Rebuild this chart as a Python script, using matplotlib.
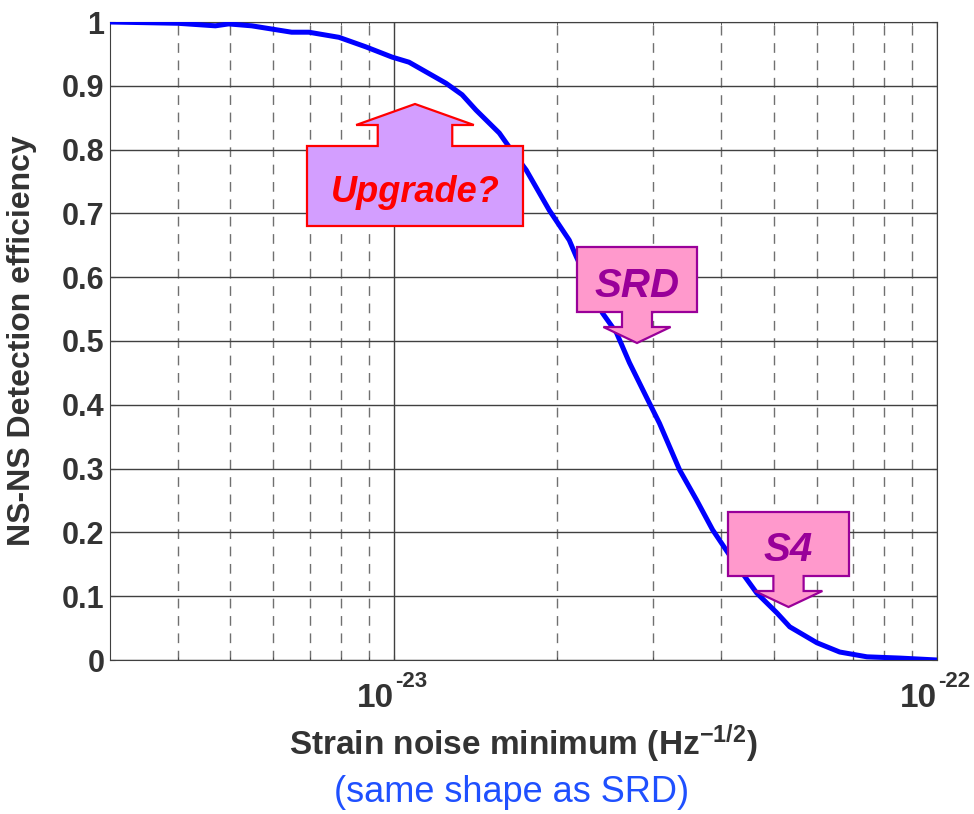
import matplotlib
matplotlib.use('Agg')
import matplotlib.pyplot as plt
from matplotlib.patches import Polygon
from matplotlib.ticker import FixedLocator, NullFormatter
from matplotlib.transforms import blended_transform_factory

# curve: strain noise minimum vs NS-NS detection efficiency
strain = [3.0e-24, 4.0e-24, 4.69e-24, 4.96e-24, 5.47e-24, 6.48e-24, 6.97e-24,
          7.92e-24, 8.88e-24, 9.92e-24, 1.066e-23, 1.247e-23, 1.335e-23,
          1.416e-23, 1.563e-23, 1.63e-23, 1.752e-23, 1.932e-23, 2.103e-23,
          2.167e-23, 2.42e-23, 2.569e-23, 2.714e-23, 2.917e-23, 3.083e-23,
          3.357e-23, 3.607e-23, 3.862e-23, 4.205e-23, 4.656e-23, 5.07e-23,
          5.356e-23, 6.01e-23, 6.62e-23, 7.43e-23, 8.55e-23, 1.0e-22]
efficiency = [1.0, 0.998, 0.994, 0.997, 0.994, 0.984, 0.984,
              0.976, 0.961, 0.945, 0.937, 0.904, 0.886,
              0.862, 0.826, 0.804, 0.768, 0.705, 0.658,
              0.632, 0.544, 0.513, 0.466, 0.412, 0.371,
              0.298, 0.251, 0.204, 0.157, 0.105, 0.074,
              0.052, 0.027, 0.0125, 0.005, 0.003, 0.0]

y_ticks = [0, 0.1, 0.2, 0.3, 0.4, 0.5, 0.6, 0.7, 0.8, 0.9, 1]
y_tick_labels = ['0', '0.1', '0.2', '0.3', '0.4', '0.5', '0.6', '0.7', '0.8', '0.9', '1']
x_major = [1e-23, 1e-22]
x_major_exp = ['-23', '-22']
x_minor = [4e-24, 5e-24, 6e-24, 7e-24, 8e-24, 9e-24,
           2e-23, 3e-23, 4e-23, 5e-23, 6e-23, 7e-23, 8e-23, 9e-23]

# callouts: label, text colour, fill, edge, box (l, t, r, b px), arrow, font size
callouts = [
    ('Upgrade?', '#ff0000', '#d39eff', '#ff0000', (307, 146, 523, 226), 'up', 26),
    ('SRD', '#990099', '#ff99cc', '#990099', (577, 247, 697, 312), 'down', 29),
    ('S4', '#990099', '#ff99cc', '#990099', (728, 512, 849, 576), 'down', 29),
]

W, H = 974, 814
FONT = 'Liberation Sans'
plt.rcParams['font.family'] = [FONT, 'DejaVu Sans']
plt.rcParams['mathtext.fontset'] = 'custom'
plt.rcParams['mathtext.bf'] = FONT + ':bold'
plt.rcParams['mathtext.rm'] = FONT + ':bold'
plt.rcParams['mathtext.it'] = FONT + ':bold:italic'

fig = plt.figure(figsize=(W / 100, H / 100), dpi=100)
ax = fig.add_axes([110 / W, 1 - 660 / H, (937 - 110) / W, (660 - 22) / H])

ax.semilogx(strain, efficiency, color='#0000ff', lw=3.6, zorder=3,
            solid_joinstyle='round')
ax.set_xlim(3e-24, 1e-22)
ax.set_ylim(0, 1)

grey = '#333333'
ax.set_yticks(y_ticks)
ax.set_yticklabels(y_tick_labels, fontsize=22, fontweight='bold', color=grey)
ax.xaxis.set_major_locator(FixedLocator(x_major))
ax.xaxis.set_minor_locator(FixedLocator(x_minor))
ax.xaxis.set_major_formatter(NullFormatter())
ax.xaxis.set_minor_formatter(NullFormatter())
ax.tick_params(axis='both', which='both', direction='in', colors='#444444',
               top=True, right=True)
ax.tick_params(axis='y', pad=4, labelcolor=grey)

# x tick labels written as base + raised exponent, like the original
tr = blended_transform_factory(ax.transData, fig.transFigure)
for xv, ex in zip(x_major, x_major_exp):
    ax.text(xv, 1 - 707 / H, '10', transform=tr, ha='right', va='baseline',
            fontsize=24, fontweight='bold', color=grey)
    ax.text(xv + xv * 0.005, 1 - 671 / H, ex, transform=tr, ha='left', va='top',
            fontsize=16, fontweight='bold', color=grey)

ax.grid(True, which='major', axis='both', color='#404040', lw=1.0, ls='-')
ax.grid(True, which='minor', axis='x', color='#707070', lw=1.0, ls=(0, (7, 5.5)))
for s in ax.spines.values():
    s.set_color('#404040')

ax.set_xlabel(r'Strain noise minimum (Hz$^{-1/2}$)', fontsize=24,
              fontweight='bold', color=grey)
ax.xaxis.set_label_coords(0.5, -0.097)
ax.set_ylabel('NS-NS Detection efficiency', fontsize=23, fontweight='bold',
              color=grey)
ax.yaxis.set_label_coords(-0.088, 0.5)

fig.text(512 / W, 1 - 793 / H, '(same shape as SRD)', ha='center', va='center',
         fontsize=26, color='#1f50ff')


def px(x, y):
    return (x / W, 1 - y / H)


for label, tcol, fill, edge, (l, t, r, b), direction, fs in callouts:
    cx = (l + r) / 2
    w = r - l
    if direction == 'up':
        stem, head = w * 0.345, w * 0.545
        stem_len, head_len = 21, 21
        pts = [(l, b), (l, t), (cx - stem / 2, t), (cx - stem / 2, t - stem_len),
               (cx - head / 2, t - stem_len), (cx, t - stem_len - head_len),
               (cx + head / 2, t - stem_len), (cx + stem / 2, t - stem_len),
               (cx + stem / 2, t), (r, t), (r, b)]
    else:
        stem, head = w * 0.25, w * 0.56
        stem_len, head_len = 15, 16
        pts = [(l, t), (r, t), (r, b), (cx + stem / 2, b),
               (cx + stem / 2, b + stem_len), (cx + head / 2, b + stem_len),
               (cx, b + stem_len + head_len), (cx - head / 2, b + stem_len),
               (cx - stem / 2, b + stem_len), (cx - stem / 2, b), (l, b)]
    poly = Polygon([px(*p) for p in pts], closed=True, transform=fig.transFigure,
                   facecolor=fill, edgecolor=edge, lw=1.6, zorder=5)
    fig.patches.append(poly)
    cap = fs * 1.389 * 0.716
    fig.text(*px(cx, (t + b) / 2 + 3 + cap / 2), label, ha='center', va='baseline',
             fontsize=fs, fontweight='bold', fontstyle='italic', color=tcol,
             zorder=6)

fig.savefig('out.png', dpi=100)
